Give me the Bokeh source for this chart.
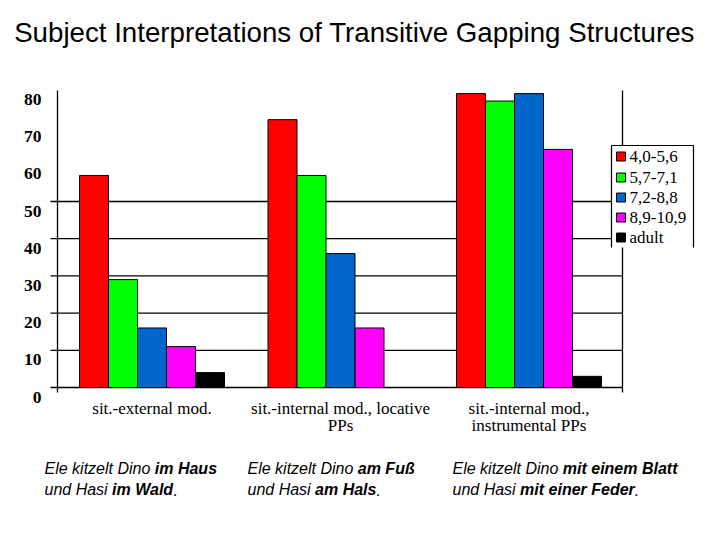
from bokeh.plotting import figure
from bokeh.models import Range1d
from bokeh.core.properties import value
from bokeh.embed import file_html
from bokeh.resources import INLINE

# ---------------- data ----------------
title_text = "Subject Interpretations of Transitive Gapping Structures"
group_line1 = ["sit.-external mod.", "sit.-internal mod., locative", "sit.-internal mod.,"]
group_line2 = ["", "PPs", "instrumental PPs"]
series_names = ["4,0-5,6", "5,7-7,1", "7,2-8,8", "8,9-10,9", "adult"]
series_colors = ["#FF0000", "#00FF00", "#0066CC", "#FF00FF", "#000000"]
vals_4_5 = [57, 72, 79]
vals_5_7 = [29, 57, 77]
vals_7_8 = [16, 36, 79]
vals_8_10 = [11, 16, 64]
vals_adult = [4, 0, 3]
series_values = [vals_4_5, vals_5_7, vals_7_8, vals_8_10, vals_adult]
y_ticks = [0, 10, 20, 30, 40, 50, 60, 70, 80]
grid_ticks = [0, 10, 20, 30, 40, 50]

# captions: (column, line, text, bold)
caption_pieces = [
    (0, 0, "Ele kitzelt Dino ", False), (0, 0, "im Haus", True),
    (0, 1, "und Hasi ", False), (0, 1, "im Wald", True), (0, 1, ".", False),
    (1, 0, "Ele kitzelt Dino ", False), (1, 0, "am Fuß", True),
    (1, 1, "und Hasi ", False), (1, 1, "am Hals", True), (1, 1, ".", False),
    (2, 0, "Ele kitzelt Dino ", False), (2, 0, "mit einem Blatt", True),
    (2, 1, "und Hasi ", False), (2, 1, "mit einer Feder", True), (2, 1, ".", False),
]

# ---------------- layout ----------------
W, H = 704, 524
PXU = 3.72          # pixels per value unit
ZERO_Y = 387        # page y of value 0
G_SP = 188.5        # pixels between group centres
G0 = 151.5          # page x of first group centre
bar_w = 29 / G_SP

p = figure(width=W, height=H,
           x_range=Range1d((0 - G0) / G_SP, (W - G0) / G_SP),
           y_range=Range1d((ZERO_Y - H) / PXU, ZERO_Y / PXU),
           x_axis_location=None, y_axis_location=None,
           toolbar_location=None, output_backend="svg",
           min_border=0, outline_line_color=None,
           background_fill_color="white", border_fill_color="white")
p.grid.visible = False
p.extra_x_ranges = {"px": Range1d(0, W)}
p.extra_y_ranges = {"px": Range1d(H, 0)}

serif = value("Liberation Serif")
sans = value("Liberation Sans")

# grid lines (value scale)
p.segment(x0=[50] * len(grid_ticks), x1=[622] * len(grid_ticks),
          y0=grid_ticks, y1=grid_ticks, x_range_name="px",
          line_color="black", line_width=1.3)
# axis lines
p.segment(x0=[57, 622, 622], x1=[57, 622, 622], y0=[90, 90, 246], y1=[392, 145, 392],
          x_range_name="px", y_range_name="px", line_color="black", line_width=1.3)

# bars
for s, (vals, col) in enumerate(zip(series_values, series_colors)):
    xs = [g + (s - 2) * bar_w for g in range(len(vals))]
    p.vbar(x=xs, top=vals, bottom=0, width=bar_w, fill_color=col,
           line_color="black", line_width=1)

# y tick labels
p.text(x=[41] * len(y_ticks), y=y_ticks, text=[str(t) for t in y_ticks],
       x_range_name="px", text_align="right", text_baseline="middle",
       y_offset=9.5, text_font=serif, text_font_size="17.5px",
       text_font_style="bold", text_color="black")

# category labels
p.text(x=list(range(3)), y=[408] * 3, text=group_line1, y_range_name="px",
       text_align="center", text_baseline="middle", text_font=serif,
       text_font_size="17px", text_color="black")
p.text(x=list(range(3)), y=[425] * 3, text=group_line2, y_range_name="px",
       text_align="center", text_baseline="middle", text_font=serif,
       text_font_size="17px", text_color="black")

# legend
p.quad(left=[611], right=[693], top=[145], bottom=[247], x_range_name="px",
       y_range_name="px", fill_color="white", line_color=None)
p.segment(x0=[611, 611, 693], x1=[611, 693, 693], y0=[145, 145, 145], y1=[247, 145, 247],
          x_range_name="px", y_range_name="px", line_color="black", line_width=1.2)
leg_y = [156, 177, 197, 217, 237]
p.rect(x=[620.5] * 5, y=leg_y, width=9, height=9, x_range_name="px", y_range_name="px",
       fill_color=series_colors, line_color="black", line_width=1)
p.text(x=[629] * 5, y=leg_y, text=series_names, x_range_name="px", y_range_name="px",
       text_align="left", text_baseline="middle", text_font=serif,
       text_font_size="17px", text_color="black")

# title
p.text(x=[354], y=[32], text=[title_text], x_range_name="px", y_range_name="px",
       text_align="center", text_baseline="middle", text_font=sans,
       text_font_size="27.7px", text_color="black")

# captions
col_x = [44, 247, 452]
line_y = [468, 489]
offsets = {
    "Ele kitzelt Dino ": 0, "und Hasi ": 0,
    "im Haus": 110.3, "am Fuß": 110.3, "mit einem Blatt": 110.3,
    "im Wald": 67.6, "am Hals": 67.6, "mit einer Feder": 67.6,
}
dot_offsets = [128.9, 129.0, 182.3]
for c, ln, txt, bold in caption_pieces:
    dx = dot_offsets[c] if txt == "." else offsets[txt]
    p.text(x=[col_x[c] + dx], y=[line_y[ln]], text=[txt], x_range_name="px",
           y_range_name="px", text_align="left", text_baseline="middle",
           text_font=sans, text_font_size="16px",
           text_font_style="bold italic" if bold else "italic", text_color="black")

open("out.html", "w").write(file_html(p, INLINE))
